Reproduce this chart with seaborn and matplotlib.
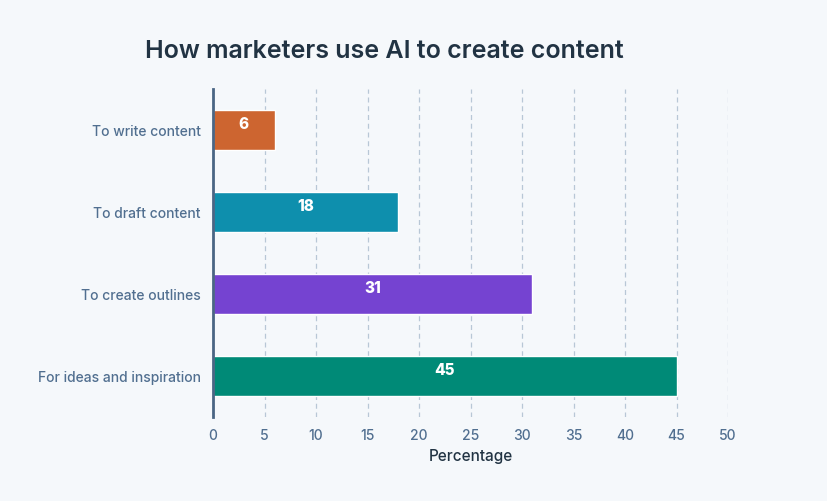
import pandas as pd
import matplotlib.pyplot as plt
import seaborn as sns

# Survey data: share of marketers using AI for each content task
categories = ["To write content", "To draft content", "To create outlines", "For ideas and inspiration"]
percentages = [6, 18, 31, 45]
bar_colors = ["#cd6530", "#0e8fad", "#7543d1", "#008a77"]
x_ticks = [0, 5, 10, 15, 20, 25, 30, 35, 40, 45, 50]

df = pd.DataFrame({"use": categories, "pct": percentages})

bg = "#f5f8fb"
sns.set_style("white")
plt.rcParams["font.family"] = ["Inter", "DejaVu Sans"]

fig = plt.figure(figsize=(8.27, 5.02), dpi=100, facecolor=bg)
ax = fig.add_axes([213 / 827, 1 - 418 / 502, (728 - 213) / 827, (418 - 90) / 502])
ax.set_facecolor(bg)

sns.barplot(data=df, x="pct", y="use", hue="use", palette=bar_colors,
            order=categories, width=0.49, legend=False, saturation=1, ax=ax)

# value labels inside bars
for p, v in zip(ax.patches, percentages):
    cx = p.get_x() + p.get_width() / 2
    cy = p.get_y() + p.get_height() / 2 - 0.08
    ax.text(cx, cy, str(v), ha="center", va="center", color="white",
            fontsize=11, fontweight="heavy")

ax.set_xlim(0, 50)
ax.set_ylim(3.5, -0.5)
ax.set_xticks(x_ticks)
ax.xaxis.grid(True, linestyle=(0, (4, 3)), color="#b8c7d6", linewidth=0.9)
ax.set_axisbelow(True)

for s in ["top", "right", "bottom"]:
    ax.spines[s].set_visible(False)
ax.spines["left"].set_color("#4a6584")
ax.spines["left"].set_linewidth(2)

ax.tick_params(axis="x", length=4, width=0.8, color="#c5d3e0", labelcolor="#516f90",
               labelsize=10, pad=4)
ax.tick_params(axis="y", length=0, labelcolor="#516f90", labelsize=10, pad=9)
for lbl in ax.get_xticklabels() + ax.get_yticklabels():
    lbl.set_fontweight("medium")

ax.set_xlabel("Percentage", fontsize=11, color="#213343", fontweight="medium", labelpad=4)
ax.set_ylabel("")

fig.text(384 / 827, 1 - 51 / 502, "How marketers use AI to create content", ha="center", va="center",
         fontsize=18, fontweight="semibold", color="#213343")

fig.savefig("out.png", dpi=100, facecolor=bg)
